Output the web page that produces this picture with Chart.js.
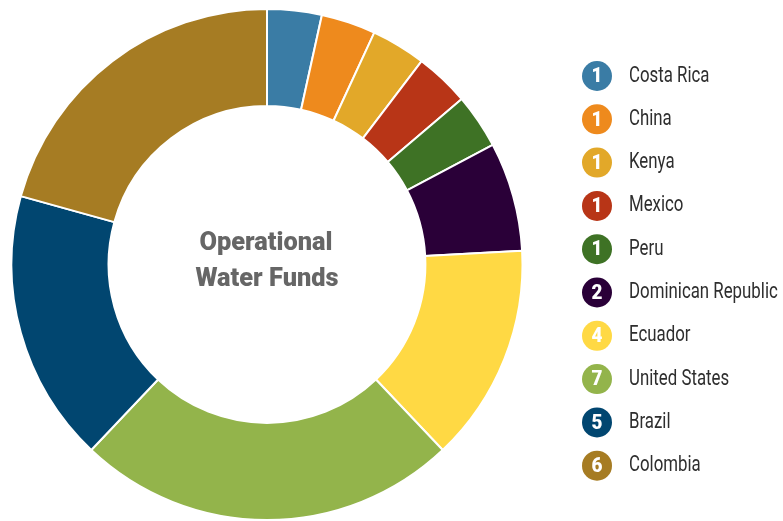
<!DOCTYPE html>
<html>
<head>
<meta charset="utf-8">
<script src="https://cdn.jsdelivr.net/npm/chart.js@4"></script>
<style>
    html, body { margin: 0; padding: 0; background: #fff; }
    #wrap { width: 783px; height: 521px; position: relative; }
</style>
</head>
<body>
<div id="wrap"><canvas id="fundsChart"></canvas></div>
<script>
// Operational water funds per country
const countries = ["Costa Rica", "China", "Kenya", "Mexico", "Peru", "Dominican Republic", "Ecuador", "United States", "Brazil", "Colombia"];
const fundCounts = [1, 1, 1, 1, 1, 2, 4, 7, 5, 6];
const sliceColors = ["#3a7ca5", "#ee8a1d", "#e2a829", "#b83517", "#3e7225", "#2a0038", "#ffd944", "#93b44b", "#014670", "#a67c23"];
const centerLines = ["Operational", "Water Funds"];

const labelFont = "Roboto, 'DejaVu Sans', sans-serif";

// Draw text squeezed horizontally (the original uses a condensed face)
function drawSqueezed(ctx, text, x, y, sx, align) {
    ctx.save();
    ctx.translate(x, y);
    ctx.scale(sx, 1);
    ctx.textAlign = align;
    ctx.fillText(text, 0, 0);
    ctx.restore();
}

// Draws the title inside the hole
const centerTextPlugin = {
    id: "centerText",
    afterDraw(chart) {
        const ctx = chart.ctx;
        const arc = chart.getDatasetMeta(0).data[0];
        ctx.save();
        ctx.fillStyle = "#666666";
        ctx.font = "900 26px " + labelFont;
        ctx.textBaseline = "middle";
        // "Operational" is about 133px wide in the original
        const sx = 133 / ctx.measureText(centerLines[0]).width;
        drawSqueezed(ctx, centerLines[0], arc.x - 1, arc.y - 21, sx, "center");
        drawSqueezed(ctx, centerLines[1], arc.x, arc.y + 15, sx, "center");
        ctx.restore();
    },
};

// Numbered circle legend on the right side
const numberLegendPlugin = {
    id: "numberLegend",
    afterDraw(chart) {
        const ctx = chart.ctx;
        const startY = 76;
        const stepY = 43.3;
        ctx.save();
        countries.forEach((name, i) => {
            const y = startY + i * stepY;
            ctx.beginPath();
            ctx.arc(597, y, 15, 0, Math.PI * 2);
            ctx.fillStyle = sliceColors[i];
            ctx.fill();
            ctx.fillStyle = "#ffffff";
            ctx.font = "900 21px " + labelFont;
            ctx.textBaseline = "middle";
            drawSqueezed(ctx, String(fundCounts[i]), 597, y + 1, 0.9, "center");
            ctx.fillStyle = "#2e2e2e";
            ctx.font = "22px " + labelFont;
            drawSqueezed(ctx, name, 629, y, 0.765, "left");
        });
        ctx.restore();
    },
};

new Chart("fundsChart", {
    type: "doughnut",
    data: {
        labels: countries,
        datasets: [
            {
                data: fundCounts,
                backgroundColor: sliceColors,
                borderColor: "#ffffff",
                borderWidth: 2,
            },
        ],
    },
    options: {
        responsive: true,
        maintainAspectRatio: false,
        animation: false,
        cutout: "62%",
        layout: { padding: { left: 0, right: 249, top: 8, bottom: 0 } },
        plugins: {
            legend: { display: false },
            tooltip: { enabled: false },
        },
    },
    plugins: [centerTextPlugin, numberLegendPlugin],
});
</script>
</body>
</html>
